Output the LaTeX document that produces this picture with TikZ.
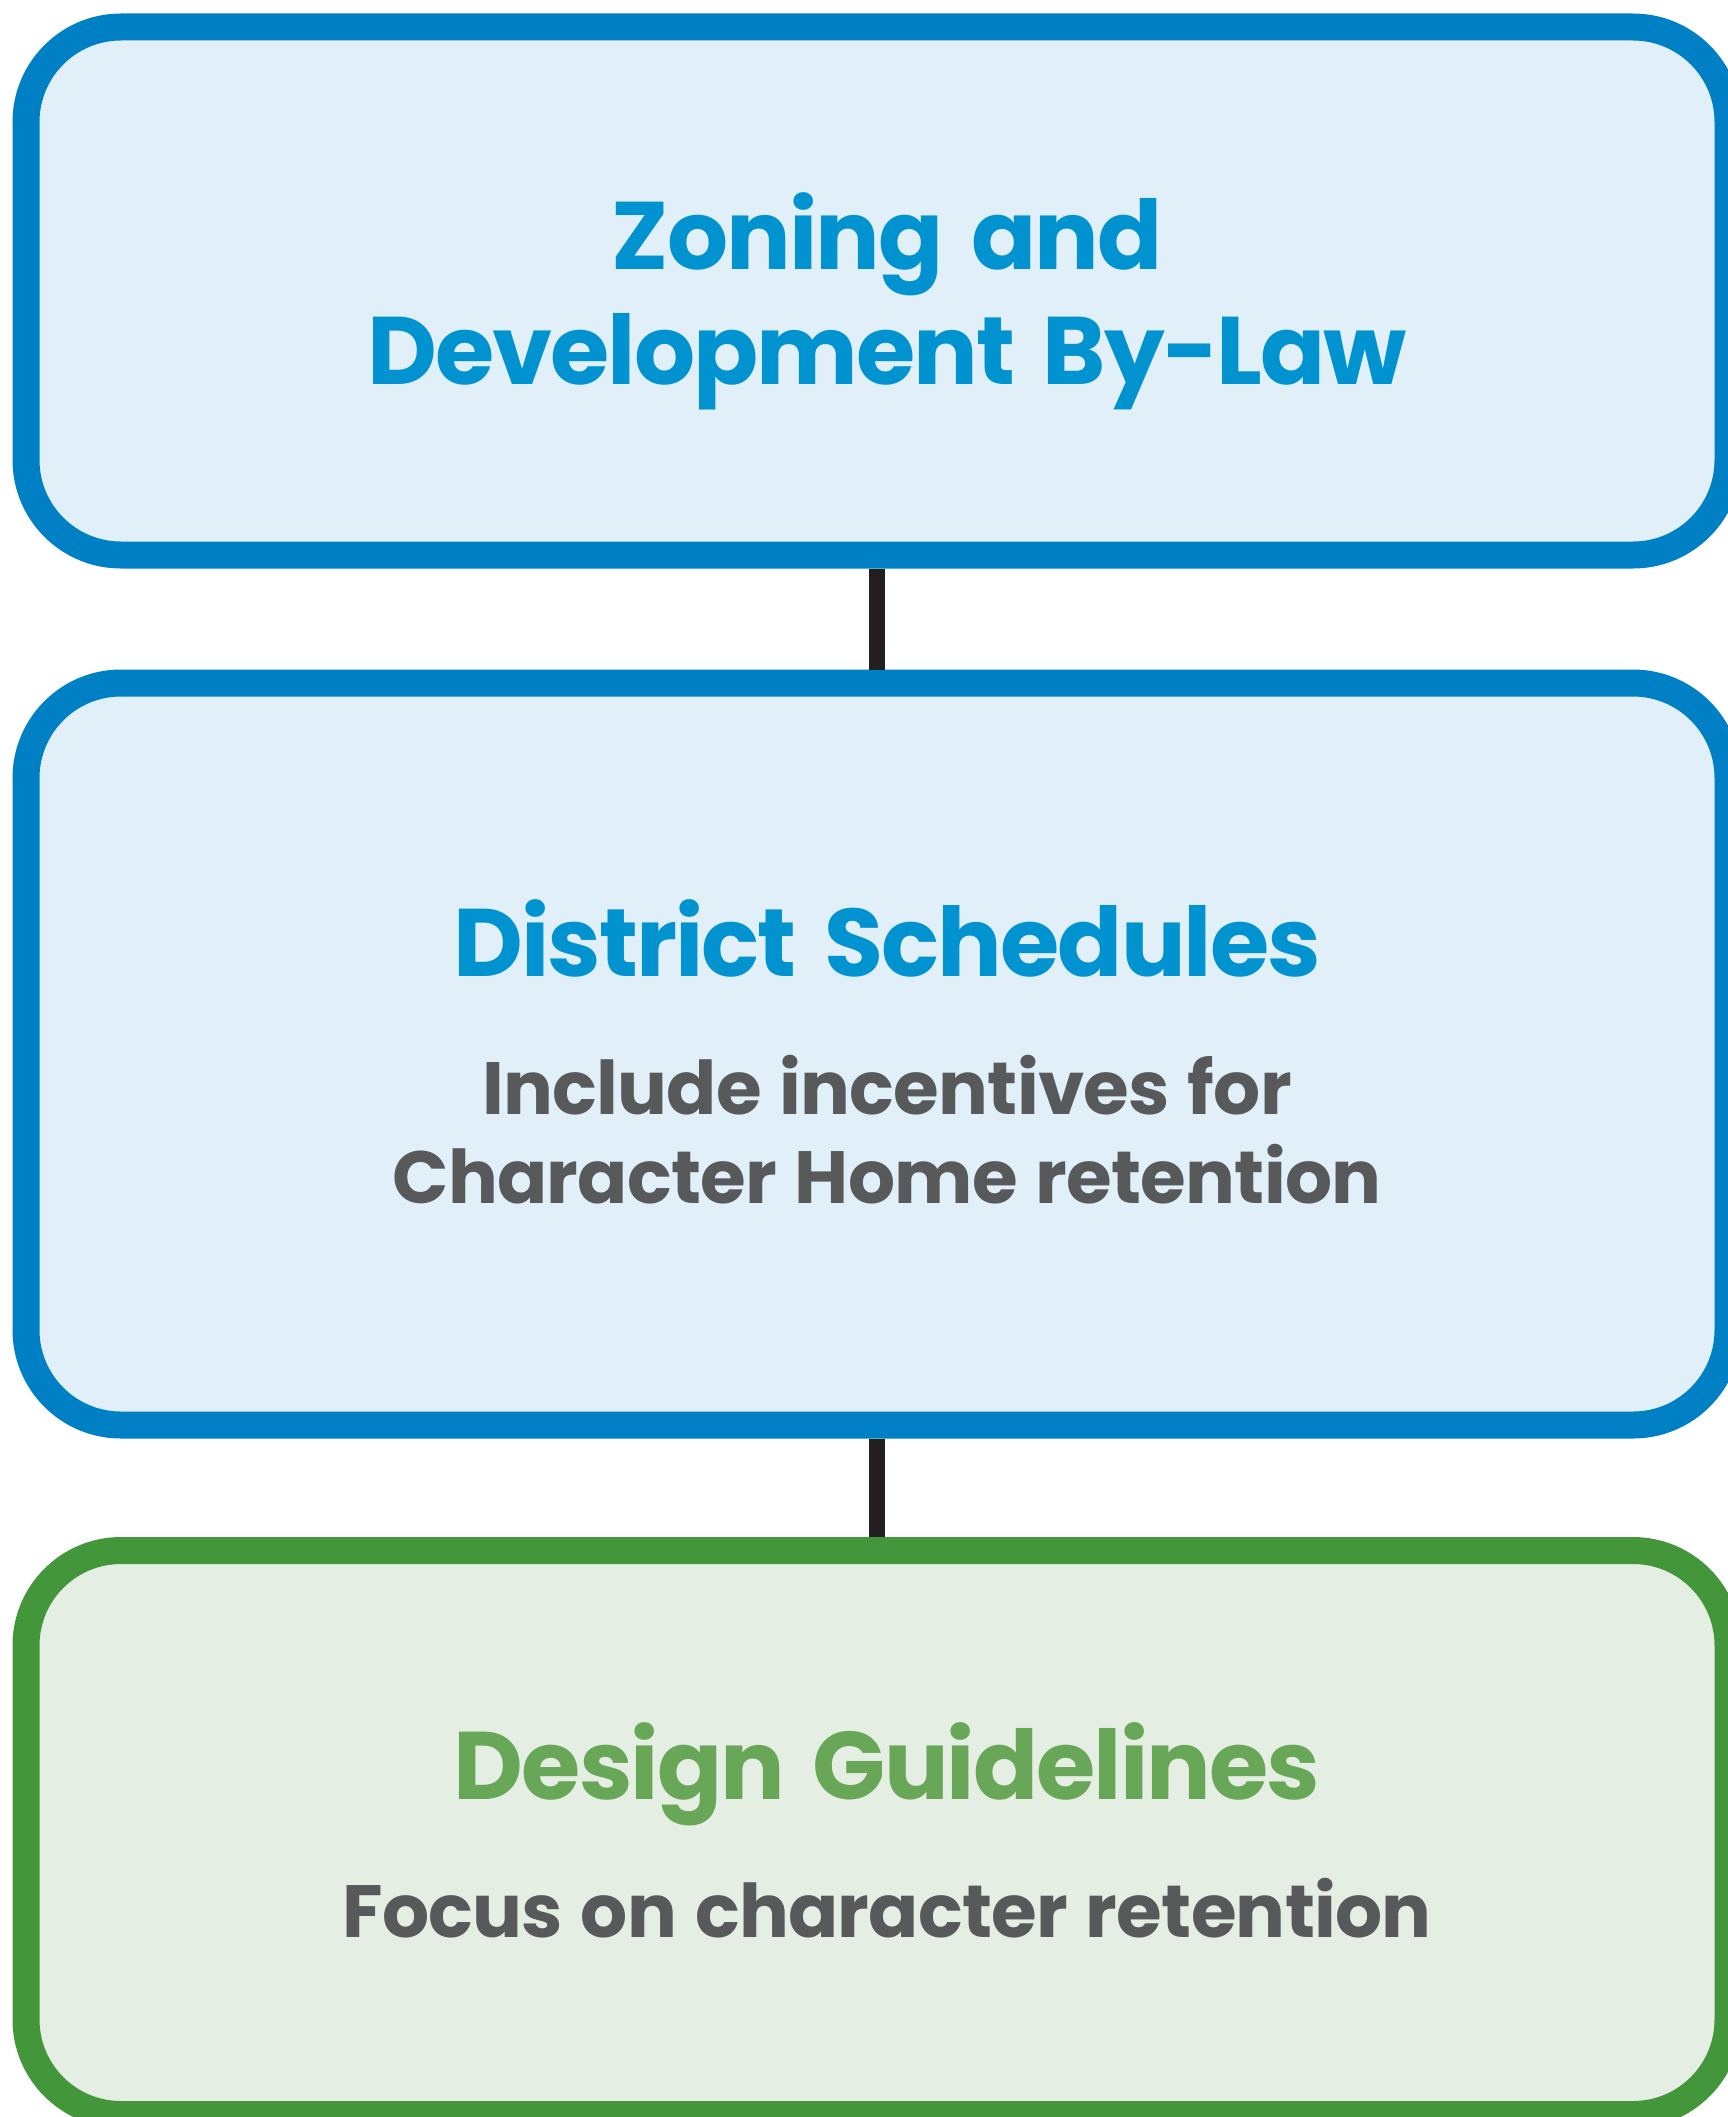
\documentclass[tikz,border=0pt]{standalone}
\usepackage{fontspec}
\setmainfont{Poppins}
\newfontfamily\headfont{Poppins}[LetterSpace=-2,WordSpace=1.5]
\newfontfamily\notefont{Poppins}[LetterSpace=-1,WordSpace=1.2]
\definecolor{boxblue}{RGB}{0,128,196}
\definecolor{fillblue}{RGB}{225,240,248}
\definecolor{titleblue}{RGB}{0,147,208}
\definecolor{boxgreen}{RGB}{67,150,58}
\definecolor{fillgreen}{RGB}{229,238,226}
\definecolor{titlegreen}{RGB}{104,167,88}
\definecolor{bodygrey}{RGB}{88,89,91}
\definecolor{linkdark}{RGB}{35,31,32}
\begin{document}
\begin{tikzpicture}[x=1pt,y=-1pt,
  panel/.style={rectangle, line width=27pt, rounded corners=95pt,
    minimum width=1702pt, inner sep=0pt},
  bluepanel/.style={panel, draw=boxblue, fill=fillblue},
  greenpanel/.style={panel, draw=boxgreen, fill=fillgreen},
  title/.style={anchor=base, inner sep=0pt, font=\headfont\bfseries\fontsize{96}{115}\selectfont},
  body/.style={anchor=base, inner sep=0pt, text=bodygrey, font=\notefont\bfseries\fontsize{74}{89}\selectfont},
  link/.style={draw=linkdark, line width=16pt}]
\useasboundingbox (0,0) rectangle (1728,2117);
\fill[white] (0,0) rectangle (1728,2117);

% three stacked panels
\node[bluepanel, minimum height=528pt] (zoning) at (877,291) {};
\node[bluepanel, minimum height=742pt] (district) at (877,1054) {};
\node[greenpanel, minimum height=564pt] (design) at (877,1832.5) {};

% vertical links between panels
\draw[link] (zoning.south) -- (district.north);
\draw[link] (district.south) -- (design.north);

% panel texts
\node[title, text=titleblue] (z1) at (887,269) {Zoning and};
\node[title, text=titleblue] (z2) at (887,384) {Development By-Law};

\node[title, text=titleblue] (d1) at (887,976) {District Schedules};
\node[body] (d2) at (887,1114) {Include incentives for};
\node[body] (d3) at (887,1203) {Character Home retention};

\node[title, text=titlegreen] (g1) at (887,1799) {Design Guidelines};
\node[body] (g2) at (887,1937) {Focus on character retention};
\end{tikzpicture}
\end{document}
